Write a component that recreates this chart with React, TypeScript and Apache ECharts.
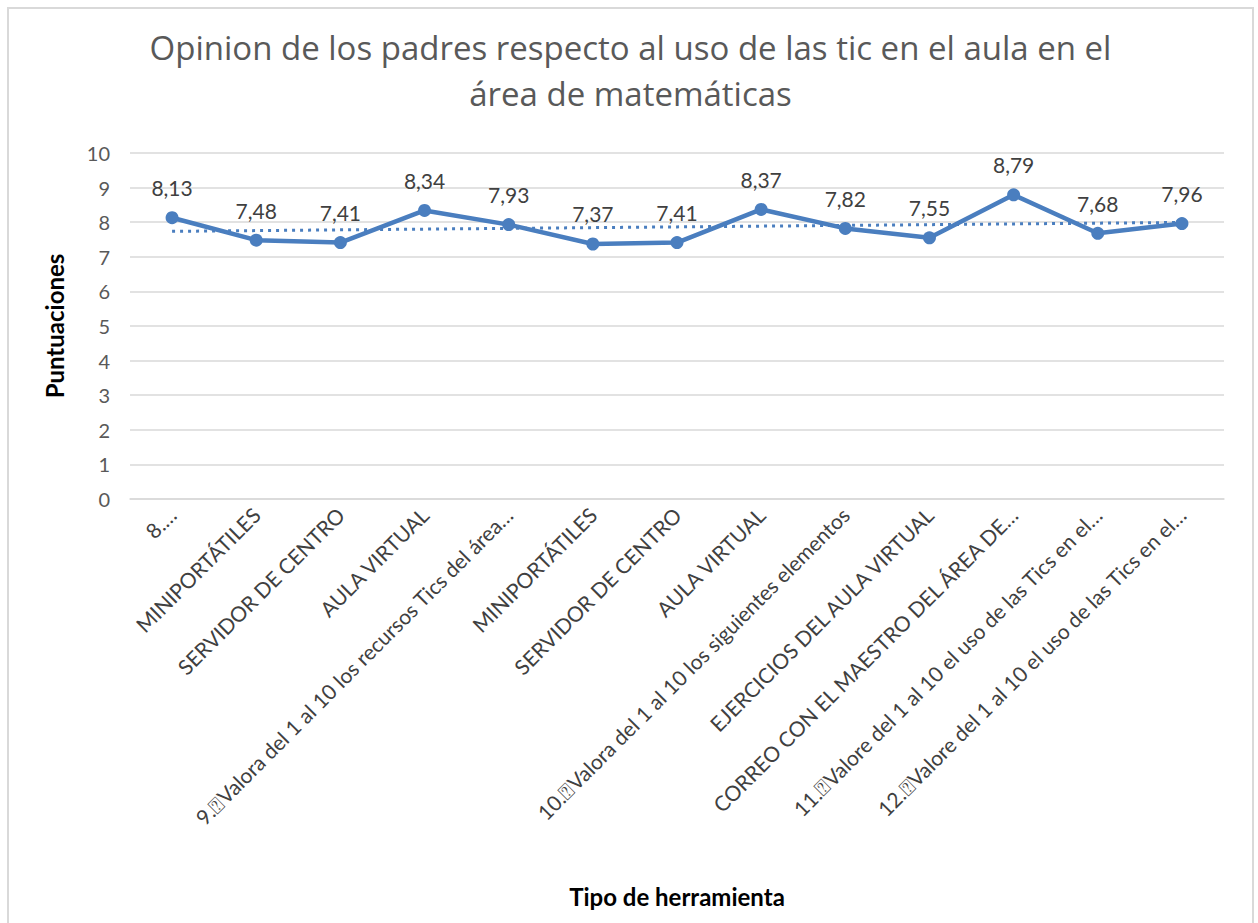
import React, { useEffect, useRef } from "react";
import * as echarts from "echarts";

const BOX = "\u2370";

const categories: string[] = [
  "8.…",
  "MINIPORTÁTILES",
  "SERVIDOR DE CENTRO",
  "AULA VIRTUAL",
  `9.${BOX}Valora del 1 al 10 los recursos Tics del área…`,
  "MINIPORTÁTILES",
  "SERVIDOR DE CENTRO",
  "AULA VIRTUAL",
  `10.${BOX}Valora del 1 al 10 los siguientes elementos`,
  "EJERCICIOS DEL AULA VIRTUAL",
  "CORREO CON EL MAESTRO DEL ÁREA DE…",
  `11.${BOX}Valore del 1 al 10 el uso de las Tics en el…`,
  `12.${BOX}Valore del 1 al 10 el uso de las Tics en el…`,
];

const scores: number[] = [8.13, 7.48, 7.41, 8.34, 7.93, 7.37, 7.41, 8.37, 7.82, 7.55, 8.79, 7.68, 7.96];

const yTicks = { min: 0, max: 10, interval: 1 };

const titleText = "Opinion de los padres respecto al uso de las tic en el aula en el\nárea de matemáticas";
const xName = "Tipo de herramienta";
const yName = "Puntuaciones";

function linearTrend(values: number[]): number[] {
  const n = values.length;
  const xs = values.map((_, i) => i + 1);
  const mx = xs.reduce((a, b) => a + b, 0) / n;
  const my = values.reduce((a, b) => a + b, 0) / n;
  let num = 0;
  let den = 0;
  xs.forEach((x, i) => {
    num += (x - mx) * (values[i] - my);
    den += (x - mx) * (x - mx);
  });
  const slope = num / den;
  const intercept = my - slope * mx;
  return xs.map((x) => intercept + slope * x);
}

const FONT = "Lato, 'Open Sans', sans-serif";
const TITLE_FONT = "'Open Sans', Lato, sans-serif";
const BLUE = "#4a7ebf";

export default function App() {
  const ref = useRef<HTMLDivElement>(null);

  useEffect(() => {
    if (!ref.current) return;
    const chart = echarts.init(ref.current, undefined, { renderer: "svg" });
    const trend = linearTrend(scores);
    chart.setOption({
      animation: false,
      backgroundColor: "#ffffff",
      textStyle: { fontFamily: FONT },
      title: {
        text: titleText,
        left: "center",
        top: 10,
        textStyle: {
          fontFamily: TITLE_FONT,
          fontSize: 33,
          fontWeight: 400,
          color: "#595959",
          lineHeight: 46,
        },
      },
      grid: { left: 121, top: 144, width: 1094, height: 346 },
      xAxis: {
        type: "category",
        data: categories,
        boundaryGap: true,
        name: xName,
        nameLocation: "middle",
        nameGap: 385,
        nameTextStyle: { fontFamily: FONT, fontSize: 24, fontWeight: "bold", color: "#000000" },
        axisLine: { show: true, lineStyle: { color: "#d9d9d9", width: 1.5 } },
        axisTick: { show: false },
        axisLabel: {
          interval: 0,
          rotate: 45,
          margin: 12,
          fontFamily: FONT,
          fontSize: 21,
          color: "#404040",
        },
      },
      yAxis: {
        type: "value",
        min: yTicks.min,
        max: yTicks.max,
        interval: yTicks.interval,
        name: yName,
        nameLocation: "middle",
        nameGap: 64,
        nameRotate: 90,
        nameTextStyle: { fontFamily: FONT, fontSize: 24, fontWeight: "bold", color: "#000000" },
        axisLine: { show: false },
        axisTick: { show: false },
        axisLabel: { fontFamily: FONT, fontSize: 20, color: "#595959", margin: 20 },
        splitLine: { lineStyle: { color: "#d9d9d9", width: 1.5 } },
      },
      series: [
        {
          type: "line",
          name: "Puntuaciones",
          data: scores,
          symbol: "circle",
          symbolSize: 13,
          lineStyle: { color: BLUE, width: 4.5 },
          itemStyle: { color: BLUE },
          label: {
            show: true,
            position: "top",
            distance: 13,
            fontFamily: FONT,
            fontSize: 21,
            color: "#404040",
            formatter: (p: any) => Number(p.value).toFixed(2).replace(".", ","),
          },
          z: 3,
        },
        {
          type: "line",
          name: "Tendencia",
          data: trend,
          showSymbol: false,
          symbol: "none",
          lineStyle: { color: BLUE, width: 3, type: [3, 5] },
          z: 2,
          silent: true,
        },
      ],
    });
    return () => chart.dispose();
  }, []);

  return (
    <div style={{ position: "fixed", left: 0, top: 0, width: 1258, height: 923, overflow: "hidden", background: "#fff" }}>
      <div
        style={{
          position: "absolute",
          left: 7,
          top: 7,
          width: 1247,
          height: 940,
          border: "2px solid #d9d9d9",
          boxSizing: "border-box",
        }}
      >
        <div ref={ref} style={{ width: 1243, height: 936 }} />
      </div>
    </div>
  );
}
